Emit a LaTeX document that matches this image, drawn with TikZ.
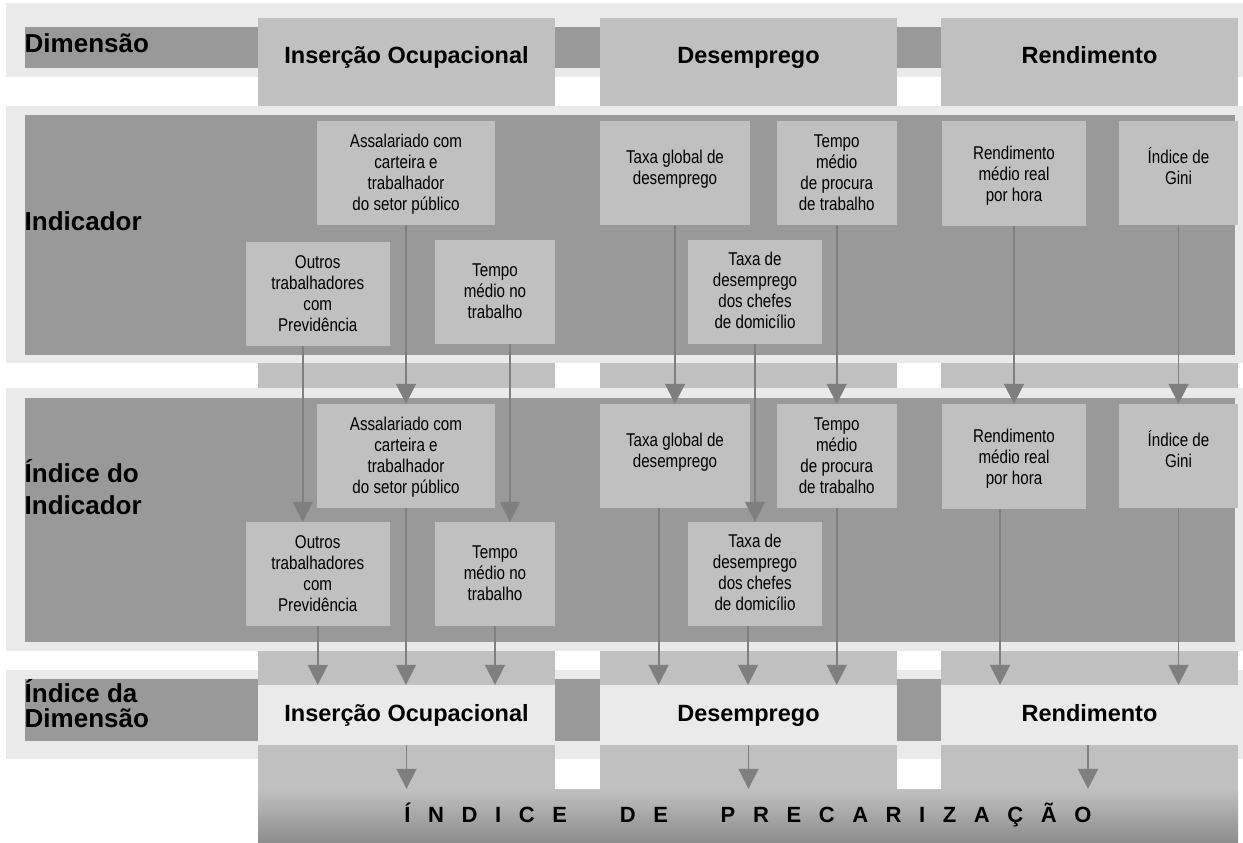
\documentclass[tikz,border=0pt]{standalone}
\usepackage{fontspec}
\setmainfont{Liberation Sans}
\newfontfamily\narrowfont[FakeStretch=0.82]{Liberation Sans}
\usetikzlibrary{arrows.meta}
\definecolor{bandlight}{HTML}{EAEAEA}
\definecolor{banddark}{HTML}{999999}
\definecolor{colbox}{HTML}{C0C0C0}
\definecolor{arrowgray}{HTML}{7F7F7F}
\definecolor{shadebottom}{HTML}{8C8C8C}
\tikzset{
  indbox/.style={fill=colbox, inner sep=0pt,
    font=\narrowfont\fontsize{18.5pt}{21pt}\selectfont},
  dimbox/.style={fill=bandlight, inner sep=0pt, minimum width=297pt, minimum height=60pt,
    text height=17.3pt, text depth=4.7pt,
    font=\bfseries\fontsize{23.5pt}{28pt}\selectfont},
  hdr/.style={inner sep=0pt, anchor=base, font=\bfseries\fontsize{23.5pt}{28pt}\selectfont},
  lbl/.style={inner sep=0pt, anchor=base west, font=\bfseries\fontsize{26pt}{31.3pt}\selectfont},
  arr/.style={draw=arrowgray, line width=1.8pt, -{Triangle[width=20pt,length=20pt]}},
}
\newcommand{\ibox}[7]{%
  \node[indbox, minimum width={(#3-#2)*1pt}, minimum height={(#5-#4)*1pt}]
    (#1) at ({(#2+#3)/2},{(#4+#5)/2})
    {\raisebox{#7pt}[\height][\depth]{\begin{tabular}{@{}c@{}}#6\end{tabular}}};}
\begin{document}
\begin{tikzpicture}[x=1pt,y=-1pt]
\useasboundingbox (0,0) rectangle (1243,843);
% row 1 and row 4 bands
\fill[bandlight] (6,3.3) rectangle (1243,76.7);
\fill[banddark] (24.5,26.7) rectangle (1235,67.7);
\fill[bandlight] (6,670) rectangle (1243,759);
\fill[banddark] (24.5,679) rectangle (1235,740.7);
% columns
\fill[colbox] (258,17.7) rectangle (555,789);
\fill[colbox] (600,17.7) rectangle (897,789);
\fill[colbox] (941,17.7) rectangle (1238,789);
% rows 2 and 3 bands
\fill[bandlight] (6,106) rectangle (1243,362.7);
\fill[banddark] (24.5,115) rectangle (1235,355);
\fill[bandlight] (6,388) rectangle (1243,650.7);
\fill[banddark] (24.5,397.7) rectangle (1235,641.7);

% row labels
\node[lbl] (ldim) at (24.5,52.5) {Dimensão};
\node[lbl] (lind) at (24.5,230) {Indicador};
\node[lbl] (lidx) at (24.5,482.7) {\begin{tabular}[t]{@{}l@{}}Índice do\\Indicador\end{tabular}};
\node[lbl] (ldix) at (24.5,702) {\begin{tabular}[t]{@{}l@{}}Índice da\\[-6.3pt]Dimensão\end{tabular}};

% dimension headers
\node[hdr] (hd1) at (406.5,64) {Inserção Ocupacional};
\node[hdr] (hd2) at (748.5,64) {Desemprego};
\node[hdr] (hd3) at (1089.5,64) {Rendimento};

% indicator boxes
\ibox{assal1}{317}{495}{121}{225}{Assalariado com\\carteira e\\trabalhador\\do setor público}{-2}
\ibox{outros1}{246}{389.5}{242}{346}{Outros\\trabalhadores\\com\\Previdência}{-2}
\ibox{tempo1}{435}{555}{240}{344}{Tempo\\médio no\\trabalho}{-1.5}
\ibox{taxag1}{600}{750}{121}{225}{Taxa global de\\desemprego}{3.5}
\ibox{tempop1}{777}{896.5}{121}{225}{Tempo\\médio\\de procura\\de trabalho}{-2}
\ibox{chefes1}{688}{822}{240}{344}{Taxa de\\desemprego\\dos chefes\\de domicílio}{-1}
\ibox{rend1}{942}{1086}{121}{226}{Rendimento\\médio real\\por hora}{-3}
\ibox{gini1}{1119}{1238}{121}{225}{Índice de\\Gini}{3.5}

% index-of-indicator boxes
\ibox{assal2}{317}{495}{404}{508}{Assalariado com\\carteira e\\trabalhador\\do setor público}{-2}
\ibox{outros2}{246}{389.5}{522}{626}{Outros\\trabalhadores\\com\\Previdência}{-2}
\ibox{tempo2}{435}{555}{522}{626}{Tempo\\médio no\\trabalho}{-1.5}
\ibox{taxag2}{600}{750}{404}{508}{Taxa global de\\desemprego}{3.5}
\ibox{tempop2}{777}{896.5}{404}{508}{Tempo\\médio\\de procura\\de trabalho}{-2}
\ibox{chefes2}{688}{822}{522}{626}{Taxa de\\desemprego\\dos chefes\\de domicílio}{-1}
\ibox{rend2}{942}{1086}{404}{509}{Rendimento\\médio real\\por hora}{-3}
\ibox{gini2}{1119}{1238}{404}{508}{Índice de\\Gini}{3.5}

% dimension index boxes
\node[dimbox] (ins4) at (406.5,715) {Inserção Ocupacional};
\node[dimbox] (des4) at (748.5,715) {Desemprego};
\node[dimbox] (ren4) at (1089.5,715) {Rendimento};

% final index
\node[inner sep=0pt, minimum width=980pt, minimum height=54pt,
      top color=colbox, bottom color=shadebottom,
      text height=15.8pt, text depth=3.8pt,
      font=\bfseries\fontsize{22pt}{26pt}\selectfont] (idx) at (748,816)
  {\spaceskip=17.6pt\relax Í N D I C E\ \ \ D E\ \ \ P R E C A R I Z A Ç Ã O\hspace{15pt}};

% arrows indicator -> index of indicator
\draw[arr] ([xshift=-15pt]outros1.south) -- ([xshift=-15pt]outros2.north);
\draw[arr] (assal1.south) -- (assal2.north);
\draw[arr] ([xshift=15pt]tempo1.south) -- ([xshift=15pt]tempo2.north);
\draw[arr] (taxag1.south) -- (taxag2.north);
\draw[arr] (chefes1.south) -- (chefes2.north);
\draw[arr] (tempop1.south) -- (tempop2.north);
\draw[arr] (rend1.south) -- (rend2.north);
\draw[arr] (gini1.south) -- (gini2.north);

% arrows index of indicator -> dimension index
\draw[arr] (outros2.south) -- (outros2.south |- ins4.north);
\draw[arr] (assal2.south) -- (assal2.south |- ins4.north);
\draw[arr] (tempo2.south) -- (tempo2.south |- ins4.north);
\draw[arr] ([xshift=-16.4pt]taxag2.south) -- ([xshift=-16.4pt]taxag2.south |- des4.north);
\draw[arr] ([xshift=-7pt]chefes2.south) -- ([xshift=-7pt]chefes2.south |- des4.north);
\draw[arr] (tempop2.south) -- (tempop2.south |- des4.north);
\draw[arr] ([xshift=-14pt]rend2.south) -- ([xshift=-14pt]rend2.south |- ren4.north);
\draw[arr] (gini2.south) -- (gini2.south |- ren4.north);

% arrows dimension index -> final index
\draw[arr] (ins4.south) -- (ins4.south |- idx.north);
\draw[arr] (des4.south) -- (des4.south |- idx.north);
\draw[arr] ([xshift=-1.5pt]ren4.south) -- ([xshift=-1.5pt]ren4.south |- idx.north);
\end{tikzpicture}
\end{document}
